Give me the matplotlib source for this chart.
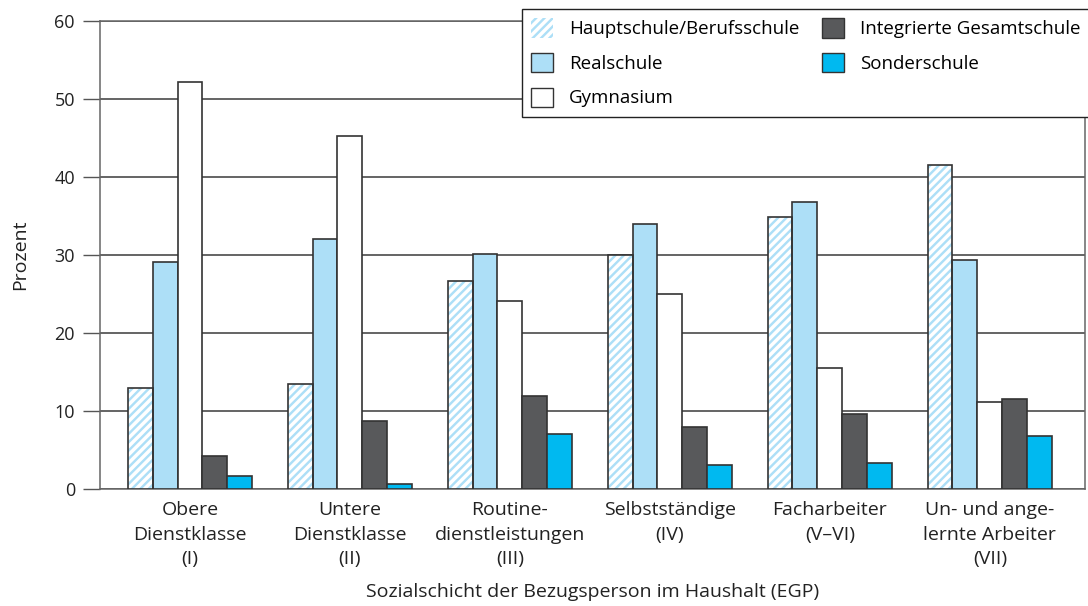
import numpy as np
import matplotlib
matplotlib.use("Agg")
import matplotlib.pyplot as plt
from matplotlib.patches import Patch

plt.rcParams["font.family"] = ["Open Sans", "DejaVu Sans"]
plt.rcParams["hatch.linewidth"] = 2.5

categories = ["Obere\nDienstklasse\n(I)", "Untere\nDienstklasse\n(II)", "Routine-\ndienstleistungen\n(III)",
              "Selbstständige\n(IV)", "Facharbeiter\n(V–VI)", "Un- und ange-\nlernte Arbeiter\n(VII)"]
series = ["Hauptschule/Berufsschule", "Realschule", "Gymnasium", "Integrierte Gesamtschule", "Sonderschule"]

hauptschule = [12.9, 13.4, 26.7, 30.0, 34.9, 41.5]
realschule = [29.1, 32.1, 30.1, 34.0, 36.8, 29.3]
gymnasium = [52.2, 45.2, 24.1, 25.0, 15.5, 11.1]
gesamtschule = [4.2, 8.7, 11.9, 7.95, 9.6, 11.5]
sonderschule = [1.7, 0.7, 7.05, 3.1, 3.3, 6.8]

light_blue = "#addff7"
dark_gray = "#58595b"
cyan = "#00b9f0"
edge = "#333333"
fs = 14

fig = plt.figure(figsize=(10.88, 6.06), dpi=100)
ax = fig.add_axes([0.0919, 0.1931, 0.9053, 0.7722])

x = np.arange(len(categories))
w = 0.156
offsets = (np.arange(5) - 2) * w

# hatched bars: light blue fill with white stripes, then an outline on top
ax.bar(x + offsets[0], hauptschule, w, color=light_blue, edgecolor="white", hatch="////", linewidth=0, zorder=3)
ax.bar(x + offsets[0], hauptschule, w, fill=False, edgecolor=edge, linewidth=1.2, zorder=4)
ax.bar(x + offsets[1], realschule, w, color=light_blue, edgecolor=edge, linewidth=1.2, zorder=3)
ax.bar(x + offsets[2], gymnasium, w, color="white", edgecolor=edge, linewidth=1.2, zorder=3)
ax.bar(x + offsets[3], gesamtschule, w, color=dark_gray, edgecolor=edge, linewidth=1.2, zorder=3)
ax.bar(x + offsets[4], sonderschule, w, color=cyan, edgecolor=edge, linewidth=1.2, zorder=3)

ax.set_xlim(-0.5625, 5.594)
ax.set_ylim(0, 60)
ax.set_yticks(range(0, 61, 10))
ax.yaxis.grid(True, color="#3a3a3a", linewidth=1.1, zorder=0)
ax.set_axisbelow(True)
ax.set_xticks(x)
ax.set_xticklabels(categories, fontsize=fs, color="#222222", linespacing=1.43)
ax.tick_params(axis="x", length=0, pad=9)
ax.tick_params(axis="y", length=12, width=1, color="#555555", labelsize=13, labelcolor="#222222", pad=6)
for s in ax.spines.values():
    s.set_color("#666666")
    s.set_linewidth(1.1)

ax.set_ylabel("Prozent", fontsize=fs, color="#222222", labelpad=18)
ax.set_xlabel("Sozialschicht der Bezugsperson im Haushalt (EGP)", fontsize=fs, color="#222222", labelpad=11)

handles = [
    Patch(facecolor=light_blue, edgecolor="white", hatch="////", linewidth=0),
    Patch(facecolor=light_blue, edgecolor=edge),
    Patch(facecolor="white", edgecolor=edge),
    Patch(facecolor=dark_gray, edgecolor=edge),
    Patch(facecolor=cyan, edgecolor=edge),
]
leg = ax.legend(handles, series, ncol=2, loc="upper left",
                bbox_to_anchor=(522 / 1088, 1 - 9 / 606), bbox_transform=fig.transFigure,
                fontsize=13.5, frameon=True, fancybox=False, framealpha=1,
                handlelength=1.17, handleheight=1.2, handletextpad=0.85,
                labelspacing=0.78, columnspacing=1.2, borderpad=0.5, borderaxespad=0)
leg.get_frame().set_edgecolor("#222222")
leg.get_frame().set_linewidth(1.0)
leg.set_zorder(10)

fig.savefig("out.png", dpi=100)
